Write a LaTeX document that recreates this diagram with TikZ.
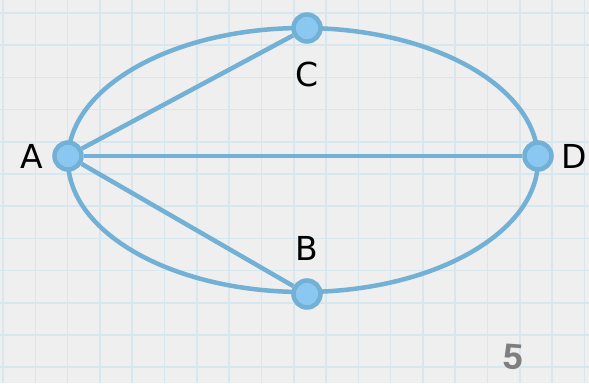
\documentclass[tikz,border=0pt]{standalone}
\usepackage{fontspec}
\setmainfont{DejaVu Sans}
\newfontfamily\handfont{Liberation Sans}
\definecolor{paper}{HTML}{EFEFEF}
\definecolor{gridblue}{HTML}{D8E7EE}
\definecolor{edgeblue}{HTML}{72B0D6}
\definecolor{dotfill}{HTML}{8BC8F1}
\definecolor{pagegray}{HTML}{7F7F7F}
\tikzset{
  vertex/.style={circle, draw=edgeblue, fill=dotfill, line width=4.5pt, minimum size=27pt, inner sep=0pt},
  vname/.style={font=\fontsize{33}{38}\selectfont, text=black},
  edge/.style={draw=edgeblue, line width=4.5pt},
  gridline/.style={draw=gridblue, line width=1.6pt}
}
\begin{document}
\begin{tikzpicture}[x=1pt, y=-1pt]
    \useasboundingbox (0,0) rectangle (589,383);
    \fill[paper] (0,0) rectangle (589,383);
    \foreach \i in {0,...,18} \draw[gridline] (3+32.3*\i,0) -- ++(0,383);
    \foreach \j in {0,...,11} \draw[gridline] (0,13+32.2*\j) -- ++(589,0);

    \coordinate (O) at (303,160);
    \draw[edge] (O) ellipse [x radius=235, y radius=132];

    \node[vertex] (A) at (68,156) {};
    \node[vertex] (C) at (307,28) {};
    \node[vertex] (D) at (538,156) {};
    \node[vertex] (B) at (307,294) {};

    \draw[edge] (A) -- (C);
    \draw[edge] (A) -- (D);
    \draw[edge] (A) -- (B);

    \node[vname] (lA) at (32,156) {A};
    \node[vname] (lC) at (307,74) {C};
    \node[vname] (lD) at (574,156) {D};
    \node[vname] (lB) at (307,248) {B};

    \node[font=\handfont\bfseries\fontsize{36}{40}\selectfont, text=pagegray, rotate=-4] (page) at (513,357) {5};
\end{tikzpicture}
\end{document}
